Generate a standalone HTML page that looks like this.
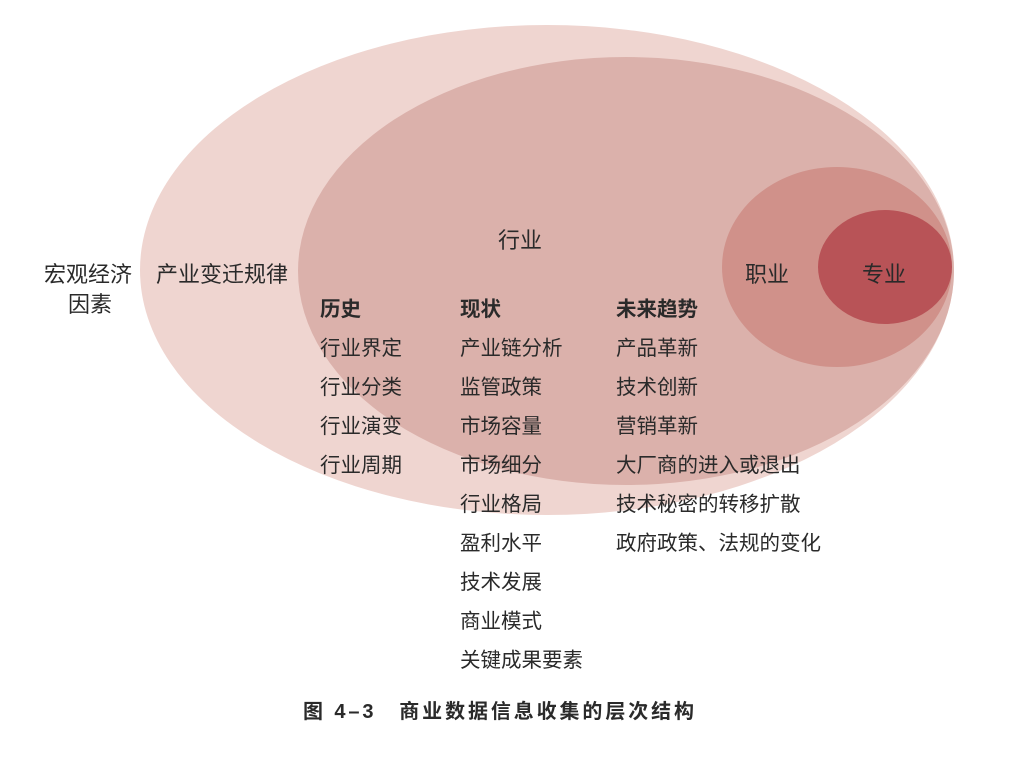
<!DOCTYPE html>
<html><head><meta charset="utf-8"><style>
html,body{margin:0;padding:0;background:#fff;}
svg text{font-family:"Liberation Sans","Noto Sans CJK SC",sans-serif;fill:#2a2a2a;}
</style></head><body>
<svg width="1020" height="762" viewBox="0 0 1020 762" xmlns="http://www.w3.org/2000/svg">
<ellipse cx="547" cy="270" rx="407" ry="245" fill="#efd5d0"/>
<ellipse cx="626" cy="271" rx="328" ry="214" fill="#dbb1ab"/>
<ellipse cx="837" cy="267" rx="115" ry="100" fill="#d0918a"/>
<ellipse cx="885" cy="267" rx="67" ry="57" fill="#b85357"/>
<g font-size="22">
<text x="44" y="282">宏观经济</text>
<text x="68" y="312">因素</text>
<text x="156" y="282">产业变迁规律</text>
<text x="498" y="248">行业</text>
<text x="745" y="282">职业</text>
<text x="862" y="282">专业</text>
</g>
<g font-size="20.5">
<text x="320" y="316" font-weight="bold">历史</text>
<text x="320" y="355">行业界定</text>
<text x="320" y="394">行业分类</text>
<text x="320" y="433">行业演变</text>
<text x="320" y="472">行业周期</text>
<text x="460" y="316" font-weight="bold">现状</text>
<text x="460" y="355">产业链分析</text>
<text x="460" y="394">监管政策</text>
<text x="460" y="433">市场容量</text>
<text x="460" y="472">市场细分</text>
<text x="460" y="511">行业格局</text>
<text x="460" y="550">盈利水平</text>
<text x="460" y="589">技术发展</text>
<text x="460" y="628">商业模式</text>
<text x="460" y="667">关键成果要素</text>
<text x="616" y="316" font-weight="bold">未来趋势</text>
<text x="616" y="355">产品革新</text>
<text x="616" y="394">技术创新</text>
<text x="616" y="433">营销革新</text>
<text x="616" y="472">大厂商的进入或退出</text>
<text x="616" y="511">技术秘密的转移扩散</text>
<text x="616" y="550">政府政策、法规的变化</text>
</g>
<text x="303" y="718" font-size="20" font-weight="bold" textLength="391">图 4–3　商业数据信息收集的层次结构</text>
</svg>
</body></html>
